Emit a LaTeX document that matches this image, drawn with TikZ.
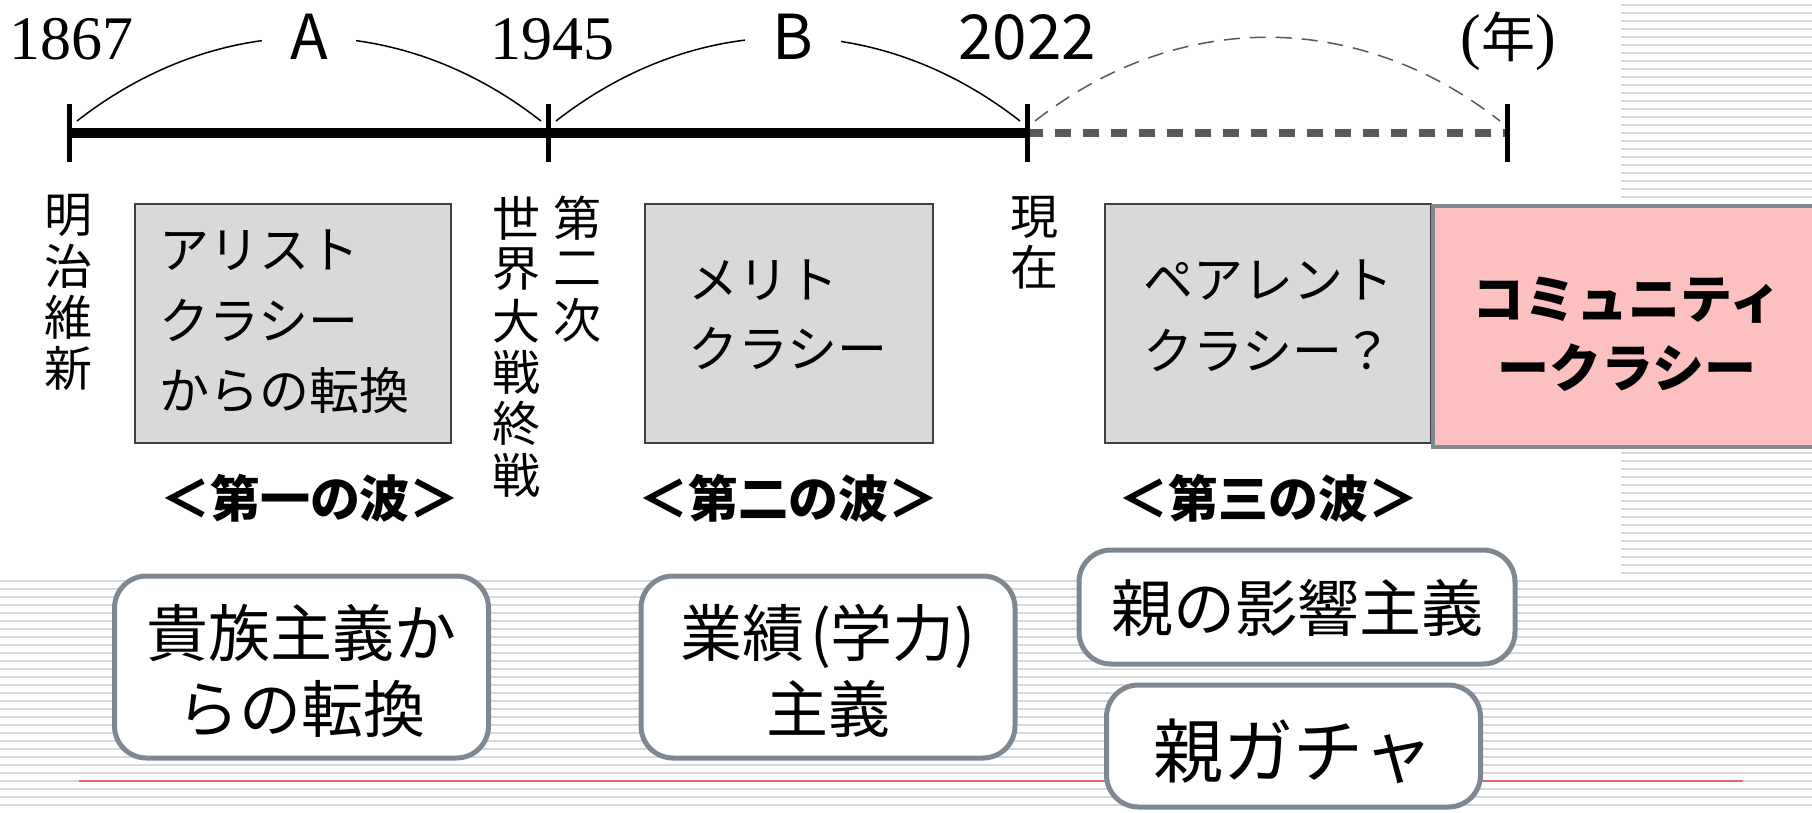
\documentclass[tikz,border=0pt]{standalone}
\usepackage{fontspec}
\setmainfont{Liberation Serif}
\newfontfamily\jp{Noto Sans CJK JP}
\definecolor{stripe}{HTML}{D9D9D9}
\definecolor{slate}{HTML}{7F8891}
\definecolor{boxgray}{HTML}{D9D9D9}
\definecolor{pinkfill}{HTML}{FCC0C0}
\definecolor{redline}{HTML}{D96B6B}
\definecolor{dashgray}{HTML}{595959}
\tikzset{
  stripeline/.style={draw=stripe, line width=0.85pt},
  axis/.style={line width=5pt},
  futureaxis/.style={line width=4pt, draw=dashgray, dash pattern=on 8pt off 6pt},
  tickmark/.style={line width=2.5pt},
  span/.style={line width=0.75pt},
  futurespan/.style={line width=0.75pt, draw=dashgray, dash pattern=on 8pt off 5pt},
  yearlab/.style={anchor=base, inner sep=0pt, font=\fontsize{31}{32}\selectfont},
  spanlab/.style={anchor=base, fill=white, inner xsep=14pt, inner ysep=2pt, font=\jp\fontsize{31}{32}\selectfont},
  vchar/.style={inner sep=0pt, font=\jp\fontsize{24}{24}\selectfont},
  graybox/.style={draw=black!75, line width=1pt, fill=boxgray, inner sep=0pt, minimum height=119.5pt},
  pinkbox/.style={draw=slate, line width=2pt, fill=pinkfill, inner sep=0pt},
  boxline/.style={anchor=base west, inner sep=0pt, font=\jp\fontsize{25}{25}\selectfont},
  pinkline/.style={anchor=base, inner sep=0pt, font=\jp\bfseries\fontsize{26}{26}\selectfont},
  wave/.style={anchor=base, inner sep=0pt, font=\jp\bfseries\fontsize{25}{25}\selectfont},
  roundbox/.style={draw=slate, line width=2.5pt, fill=white, rounded corners=16pt, inner sep=0pt},
  roundtext/.style={anchor=base, inner sep=0pt, font=\jp\fontsize{31}{31}\selectfont},
}
\begin{document}
\begin{tikzpicture}[x=0.5pt,y=0.5pt]
\useasboundingbox (0,0) rectangle (1812,-813);
\clip (0,0) rectangle (1812,-813);
% striped slide background
\foreach \k in {0,...,100} \draw[stripeline] (0,{-5-8*\k}) -- (1812,{-5-8*\k});
\fill[white] (0,0) rectangle (1621,-577);
% red rule
\coordinate (r1) at (79,-781);
\coordinate (r2) at (1743,-781);
\draw[redline, line width=1pt] (r1) -- (r2);
% timeline
\coordinate (t1) at (69,-133);
\coordinate (t2) at (548,-133);
\coordinate (t3) at (1027,-133);
\coordinate (t4) at (1507,-133);
\draw[axis] (t1) -- (t3);
\draw[futureaxis] (t3) -- (t4);
\foreach \t in {t1,t2,t3,t4} \draw[tickmark] (\t) ++(0,29) -- ++(0,-58);
% spans
\coordinate (a1s) at (77,-121);
\coordinate (a1e) at (541,-121);
\coordinate (a2s) at (556,-121);
\coordinate (a2e) at (1020,-121);
\coordinate (a3s) at (1035,-121);
\coordinate (a3e) at (1500,-121);
\draw[span] (a1s) to[bend left=38] (a1e);
\draw[span] (a2s) to[bend left=38] (a2e);
\draw[futurespan] (a3s) to[bend left=38] (a3e);
\node[spanlab] (lA) at (309,-60) {A};
\node[spanlab] (lB) at (793,-60) {B};
% years
\node[yearlab] (y1867) at (72,-60) {1867};
\node[yearlab] (y1945) at (552,-60) {1945};
\node[yearlab, font=\jp\fontsize{31}{32}\selectfont] (y2022) at (1027,-60) {2022};
\node[yearlab, font=\fontsize{31}{32}\selectfont] (nen) at (1508,-58) {({\jp\fontsize{27}{28}\selectfont 年})};
% vertical labels
\foreach \c [count=\i] in {明,治,維,新} \node[vchar] (meiji\i) at (69,{-215-51*(\i-1)}) {\c};
\foreach \c [count=\i] in {世,界,大,戦,終,戦} \node[vchar] (sekai\i) at (516,{-218-51.4*(\i-1)}) {\c};
\foreach \c [count=\i] in {第,二,次} \node[vchar] (dai\i) at (577,{-218-51*(\i-1)}) {\c};
\foreach \c [count=\i] in {現,在} \node[vchar] (gen\i) at (1034,{-217-50*(\i-1)}) {\c};
% era boxes
\node[graybox, minimum width=158pt] (g1) at (293,-323.5) {};
\node[graybox, minimum width=144pt] (g2) at (789,-323.5) {};
\node[graybox, minimum width=163pt] (g3) at (1268,-323.5) {};
\node[pinkbox, minimum width=203.5pt, minimum height=120.5pt] (pk) at (1636.5,-326.5) {};
\node[boxline] (g1a) at (159,-269) {アリスト};
\node[boxline] (g1b) at (159,-339) {クラシー};
\node[boxline] (g1c) at (159,-409) {からの転換};
\node[boxline] (g2a) at (688,-299) {メリト};
\node[boxline] (g2b) at (688,-367) {クラシー};
\node[boxline] (g3a) at (1143,-299) {ペアレント};
\node[boxline] (g3b) at (1143,-369) {クラシー？};
\node[pinkline] (pka) at (1627,-318) {コミュニティ};
\node[pinkline] (pkb) at (1627,-387) {ークラシー};
% waves
\node[wave] (w1) at (310,-517) {＜第一の波＞};
\node[wave] (w2) at (788,-517) {＜第二の波＞};
\node[wave] (w3) at (1268,-517) {＜第三の波＞};
% rounded boxes
\node[roundbox, minimum width=187pt, minimum height=91pt] (rb1) at (301.5,-667) {};
\node[roundbox, minimum width=187pt, minimum height=91pt] (rb2) at (828,-667) {};
\node[roundbox, minimum width=218pt, minimum height=57pt] (rb3) at (1297,-607) {};
\node[roundbox, minimum width=187pt, minimum height=61pt] (rb4) at (1293.5,-746) {};
\node[roundtext] (rb1a) at (301.5,-656) {貴族主義か};
\node[roundtext] (rb1b) at (301.5,-732) {らの転換};
\node[roundtext] (rb2a) at (828,-656) {業績\kern3pt(学力)};
\node[roundtext] (rb2b) at (828,-732) {主義};
\node[roundtext] (rb3a) at (1297,-631) {親の影響主義};
\node[roundtext, font=\jp\fontsize{35}{35}\selectfont] (rb4a) at (1293.5,-777) {親ガチャ};
\end{tikzpicture}
\end{document}
